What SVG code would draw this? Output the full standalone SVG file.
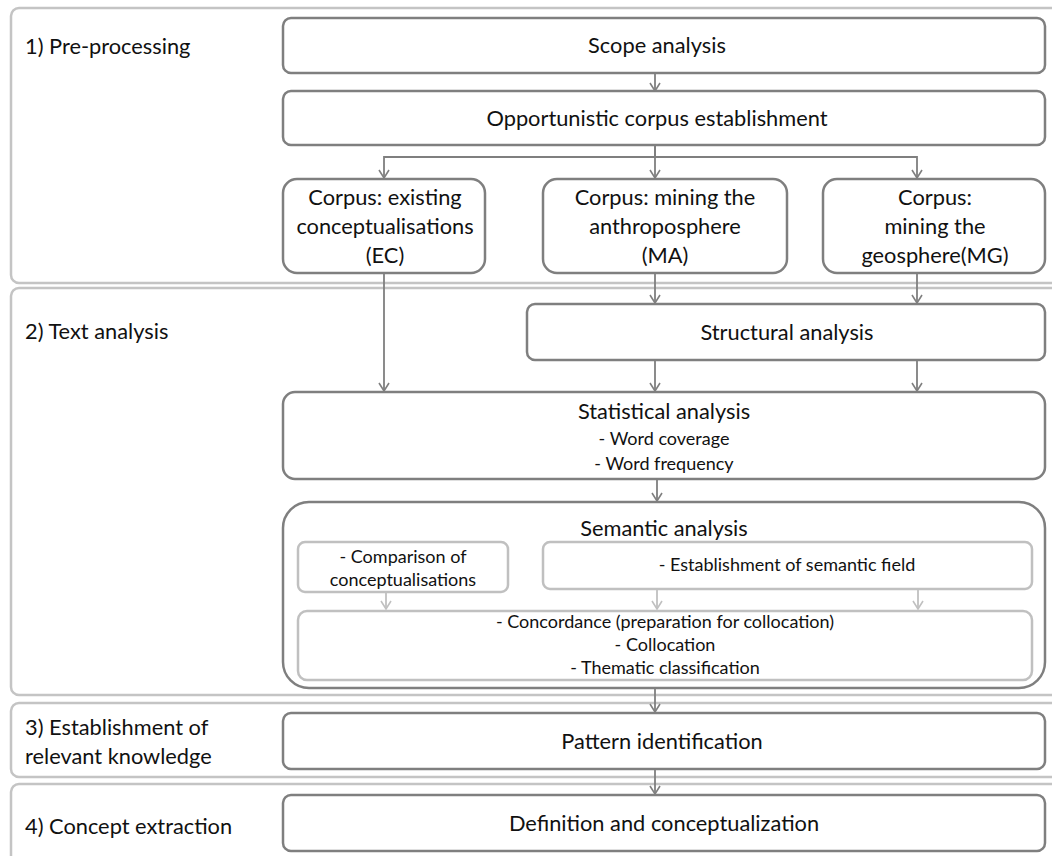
<svg xmlns="http://www.w3.org/2000/svg" width="1052" height="856" viewBox="0 0 1052 856">
<style>
  .sec{fill:none;stroke:#c4c4c4;stroke-width:2.5}
  .box{fill:#fff;stroke:#7f7f7f;stroke-width:2.5}
  .lbox{fill:#fff;stroke:#c0c0c0;stroke-width:2.5}
  .t{font-family:"Lato","Liberation Sans",sans-serif;fill:#111;text-anchor:middle}
  .lg{font-size:21.8px}
  .sm{font-size:18px}
  .sl{font-family:"Lato","Liberation Sans",sans-serif;fill:#111;font-size:21.8px}
  .c{fill:none;stroke:#7f7f7f;stroke-width:1.8;marker-end:url(#ah)}
  .cl{fill:none;stroke:#c0c0c0;stroke-width:1.8;marker-end:url(#ahl)}
</style>
<defs>
  <marker id="ah" viewBox="0 0 10 12" refX="9" refY="6" markerWidth="10" markerHeight="12" markerUnits="userSpaceOnUse" orient="auto">
    <path d="M1,1 L9,6 L1,11" fill="none" stroke="#7f7f7f" stroke-width="1.6"/>
  </marker>
  <marker id="ahl" viewBox="0 0 10 12" refX="9" refY="6" markerWidth="10" markerHeight="12" markerUnits="userSpaceOnUse" orient="auto">
    <path d="M1,1 L9,6 L1,11" fill="none" stroke="#c0c0c0" stroke-width="1.6"/>
  </marker>
</defs>
<rect width="1052" height="856" fill="#fff"/>

<g id="sections">
  <g id="sec1"><rect class="sec" x="11" y="8" width="1060" height="275" rx="8"/><text class="sl" x="25" y="54">1) Pre-processing</text></g>
  <g id="sec2"><rect class="sec" x="11" y="288" width="1060" height="407" rx="8"/><text class="sl" x="25" y="339">2) Text analysis</text></g>
  <g id="sec3"><rect class="sec" x="11" y="703" width="1060" height="74" rx="8"/><text class="sl" x="25" y="735">3) Establishment of</text><text class="sl" x="25" y="764">relevant knowledge</text></g>
  <g id="sec4"><rect class="sec" x="11" y="784" width="1060" height="90" rx="8"/><text class="sl" x="25" y="834">4) Concept extraction</text></g>
</g>

<g id="scope"><rect class="box" x="283" y="18" width="762" height="55" rx="8"/><text class="t lg" x="657" y="53">Scope analysis</text></g>
<g id="opportunistic"><rect class="box" x="283" y="91" width="762" height="54" rx="8"/><text class="t lg" x="657" y="126">Opportunistic corpus establishment</text></g>
<g id="corpusEC"><rect class="box" x="283" y="179" width="202" height="94" rx="14"/>
  <text class="t lg" x="385" y="205">Corpus: existing</text><text class="t lg" x="385" y="234">conceptualisations</text><text class="t lg" x="385" y="263">(EC)</text></g>
<g id="corpusMA"><rect class="box" x="543" y="179" width="244" height="94" rx="14"/>
  <text class="t lg" x="665" y="205">Corpus: mining the</text><text class="t lg" x="665" y="234">anthroposphere</text><text class="t lg" x="665" y="263">(MA)</text></g>
<g id="corpusMG"><rect class="box" x="823" y="179" width="222" height="94" rx="14"/>
  <text class="t lg" x="935" y="205">Corpus:</text><text class="t lg" x="935" y="234">mining the</text><text class="t lg" x="935" y="263">geosphere(MG)</text></g>
<g id="structural"><rect class="box" x="527" y="304" width="518" height="56" rx="8"/><text class="t lg" x="787" y="340">Structural analysis</text></g>
<g id="statistical"><rect class="box" x="283" y="392" width="762" height="87" rx="12"/>
  <text class="t lg" x="664" y="419">Statistical analysis</text><text class="t sm" x="664" y="445">- Word coverage</text><text class="t sm" x="664" y="470">- Word frequency</text></g>
<g id="semantic"><rect class="box" x="283" y="502" width="762" height="186" rx="26"/>
  <text class="t lg" x="664" y="536">Semantic analysis</text>
  <g id="comparison"><rect class="lbox" x="298" y="542" width="210" height="50" rx="7"/><text class="t sm" x="403" y="563">- Comparison of</text><text class="t sm" x="403" y="586">conceptualisations</text></g>
  <g id="semfield"><rect class="lbox" x="543" y="542" width="489" height="47" rx="7"/><text class="t sm" x="787" y="571">- Establishment of semantic field</text></g>
  <g id="concordance"><rect class="lbox" x="298" y="611" width="734" height="69" rx="9"/>
    <text class="t sm" x="665" y="628">- Concordance (preparation for collocation)</text><text class="t sm" x="665" y="651">- Collocation</text><text class="t sm" x="665" y="674">- Thematic classification</text></g>
</g>
<g id="pattern"><rect class="box" x="283" y="713" width="762" height="56" rx="8"/><text class="t lg" x="662" y="749">Pattern identification</text></g>
<g id="definition"><rect class="box" x="283" y="795" width="762" height="56" rx="8"/><text class="t lg" x="664" y="831">Definition and conceptualization</text></g>

<g id="connectors">
  <path class="c" d="M655,73 V91"/>
  <path class="c" d="M655,145 V157 H384 V178"/>
  <path class="c" d="M655,145 V178"/>
  <path class="c" d="M655,145 V157 H917 V178"/>
  <path class="c" d="M384,273 V391"/>
  <path class="c" d="M655,273 V303"/>
  <path class="c" d="M917,273 V303"/>
  <path class="c" d="M655,360 V391"/>
  <path class="c" d="M917,360 V391"/>
  <path class="c" d="M657,479 V501"/>
  <path class="cl" d="M386,592 V609"/>
  <path class="cl" d="M657,589 V609"/>
  <path class="cl" d="M918,589 V609"/>
  <path class="c" d="M655,688 V712"/>
  <path class="c" d="M655,769 V794"/>
</g>
</svg>
